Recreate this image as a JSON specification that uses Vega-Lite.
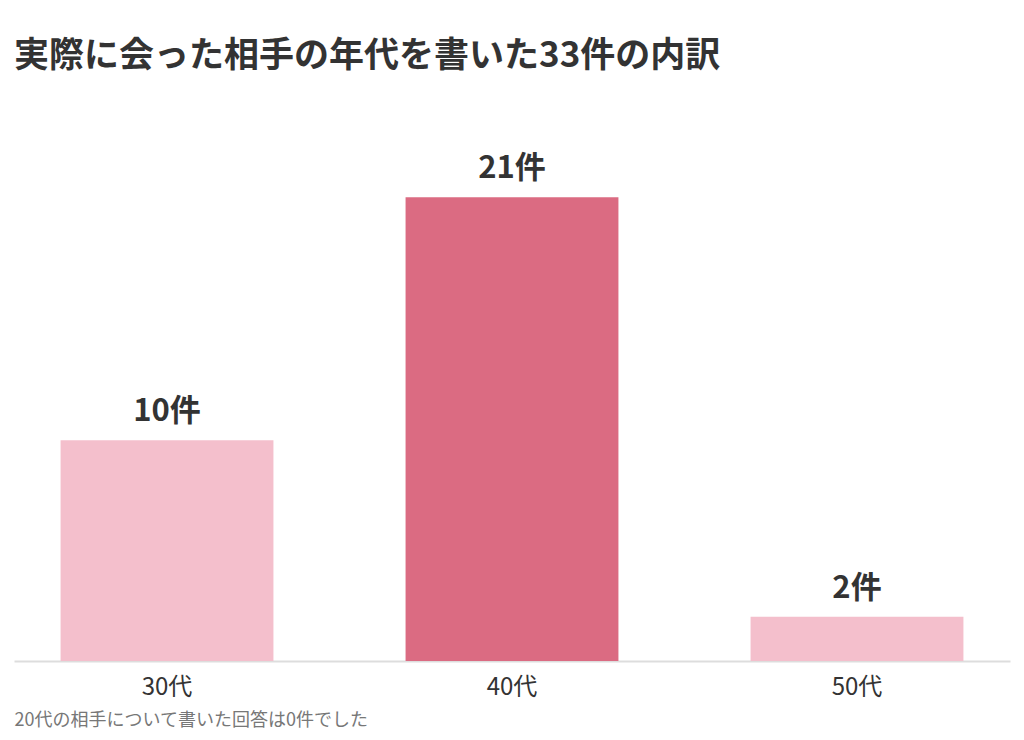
{
  "$schema": "https://vega.github.io/schema/vega-lite/v6.json",
  "autosize": "none",
  "padding": {"left": 14, "right": 14, "top": 109, "bottom": 79},
  "width": 996,
  "height": 552,
  "background": "#ffffff",
  "title": {
    "text": "実際に会った相手の年代を書いた33件の内訳",
    "anchor": "start",
    "frame": "group",
    "font": "Noto Sans CJK JP",
    "fontSize": 35,
    "fontWeight": "bold",
    "color": "#333333",
    "offset": 35
  },
  "config": {
    "view": {"stroke": null},
    "font": "Noto Sans CJK JP"
  },
  "data": {
    "values": [
      {"age": "30代", "count": 10, "label": "10件"},
      {"age": "40代", "count": 21, "label": "21件"},
      {"age": "50代", "count": 2, "label": "2件"}
    ]
  },
  "encoding": {
    "x": {
      "field": "age",
      "type": "nominal",
      "sort": null,
      "scale": {"paddingInner": 0.383, "paddingOuter": 0.135},
      "axis": {
        "title": "20代の相手について書いた回答は0件でした",
        "titleAnchor": "start",
        "titleFontSize": 18,
        "titleFontWeight": "normal",
        "titleColor": "#777777",
        "titlePadding": 12,
        "labelAngle": 0,
        "labelFontSize": 24,
        "labelColor": "#333333",
        "labelPadding": 14,
        "ticks": false,
        "domainColor": "#dddddd",
        "domainWidth": 2
      }
    },
    "y": {
      "field": "count",
      "type": "quantitative",
      "scale": {"domain": [0, 25]},
      "axis": null
    }
  },
  "layer": [
    {
      "mark": {"type": "bar"},
      "encoding": {
        "color": {
          "condition": {"test": "datum.age === '40代'", "value": "#DB6B82"},
          "value": "#F4BFCC"
        }
      }
    },
    {
      "mark": {
        "type": "text",
        "baseline": "bottom",
        "dy": -12,
        "fontSize": 31,
        "fontWeight": "bold",
        "color": "#333333"
      },
      "encoding": {
        "text": {"field": "label", "type": "nominal"}
      }
    }
  ]
}
